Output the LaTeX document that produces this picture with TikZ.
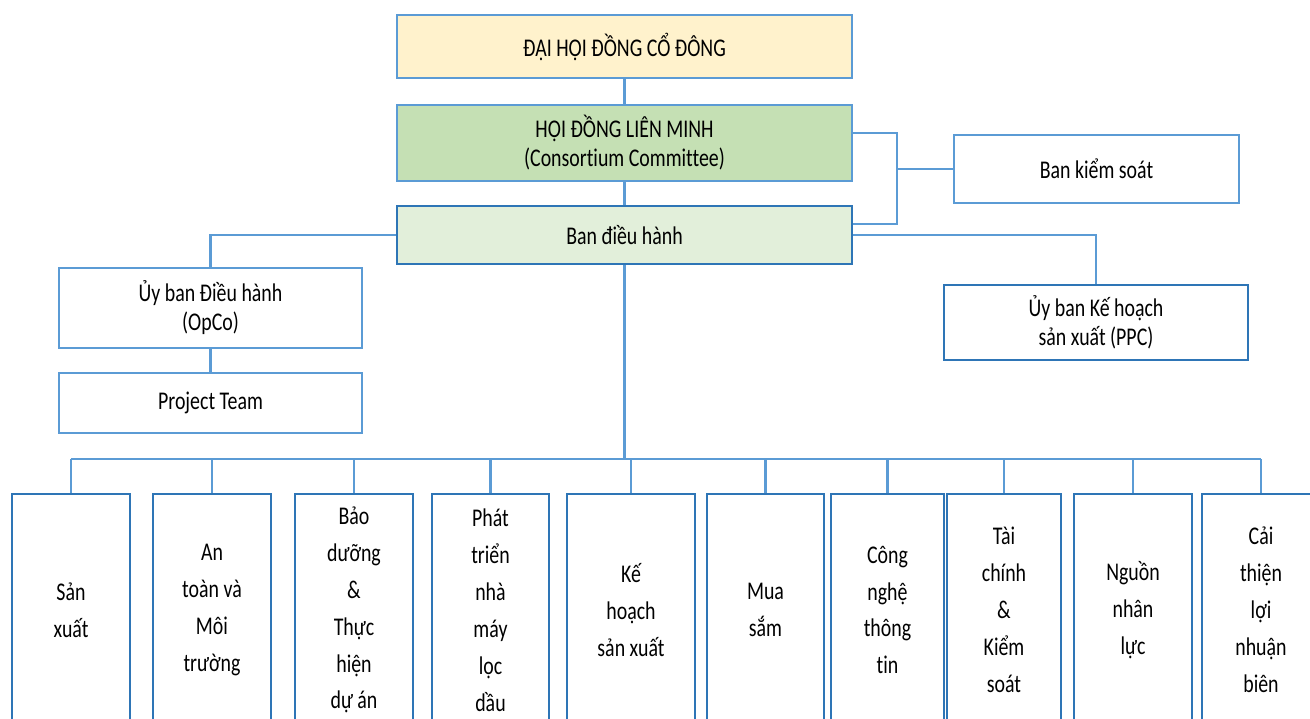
\documentclass[tikz,border=0pt]{standalone}
\usepackage{fontspec}
\setmainfont{Carlito}[FakeStretch=0.78, Ligatures=NoCommon]
\usetikzlibrary{positioning}
\definecolor{lineblue}{HTML}{5B9BD5}
\definecolor{boxblue}{HTML}{2E75B6}
\definecolor{gmsfill}{HTML}{FFF2CC}
\definecolor{boardfill}{HTML}{C5E0B4}
\definecolor{execfill}{HTML}{E2EFDA}
\begin{document}
\begin{tikzpicture}[x=0.02cm, y=-0.02cm, font=\fontsize{14.5}{16.5}\selectfont]
    \tikzstyle{unit}=[draw=lineblue, line width=1.2pt, inner sep=0pt, align=center]
    \tikzstyle{dept}=[unit, draw=boxblue, minimum height=232*0.02cm, font=\fontsize{14.5}{21}\selectfont]
    \tikzstyle{link}=[draw=lineblue, line width=1.2pt]

    \useasboundingbox (0,0) rectangle (1310,718);
    \clip (0,0) rectangle (1310,718);

    % Top level
    \node[unit, fill=gmsfill, minimum width=455*0.02cm, minimum height=63*0.02cm] (dhdcd) at (624.5,46.5) {ĐẠI HỘI ĐỒNG CỔ ĐÔNG};
    \node[unit, fill=boardfill, minimum width=455*0.02cm, minimum height=76*0.02cm] (hdlm) at (624.5,143) {HỘI ĐỒNG LIÊN MINH\\(Consortium Committee)};
    \node[unit, draw=boxblue, fill=execfill, minimum width=455*0.02cm, minimum height=58*0.02cm] (bdh) at (624.5,235) {Ban điều hành};

    % Side units
    \node[unit, minimum width=285*0.02cm, minimum height=68*0.02cm] (bks) at (1096.5,169) {Ban kiểm soát};
    \node[unit, draw=boxblue, minimum width=304*0.02cm, minimum height=75*0.02cm] (ppc) at (1096,322.5) {Ủy ban Kế hoạch\\sản xuất (PPC)};
    \node[unit, minimum width=303*0.02cm, minimum height=80*0.02cm] (opco) at (210.5,308) {Ủy ban Điều hành\\(OpCo)};
    \node[unit, minimum width=303*0.02cm, minimum height=60*0.02cm] (team) at (210.5,403) {Project Team};

    % Departments
    \foreach \i/\x/\w/\txt in {1/71/118/Sản\\xuất,
                                2/212/118/An\\toàn và\\Môi\\trường,
                                3/354/118/Bảo\\dưỡng\\\&\\Thực\\hiện\\dự án,
                                4/490.5/117/Phát\\triển\\nhà\\máy\\lọc\\dầu,
                                5/631/128/Kế\\hoạch\\sản xuất,
                                6/765.5/117/Mua\\sắm,
                                7/887.5/113/Công\\nghệ\\thông\\tin,
                                8/1004/114/Tài\\chính\\\&\\Kiểm\\soát,
                                9/1133/118/Nguồn\\nhân\\lực,
                                10/1261/118/Cải\\thiện\\lợi\\nhuận\\biên}
        \node[dept, minimum width=\w*0.02cm] (D-\i) at (\x,610) {\txt};

    % Connect top level
    \draw[link] (dhdcd) -- (hdlm);
    \draw[link] (hdlm) -- (bdh);

    % Connect supervisory board
    \coordinate (ksbus) at (897,169);
    \draw[link] (hdlm.east |- 0,133) -| (ksbus) |- (bdh.east |- 0,224);
    \draw[link] (ksbus) -- (bks.west);

    % Connect committees
    \draw[link] (bdh.east) -| (ppc.north);
    \draw[link] (bdh.west) -| (opco.north);
    \draw[link] (opco) -- (team);

    % Connect departments
    \coordinate (bus) at (624.5,459);
    \draw[link] (bdh.south) -- (bus);
    \draw[link] (D-1.north |- bus) -- (D-10.north |- bus);
    \foreach \i in {1,...,10}
        \draw[link] (D-\i.north |- bus) -- (D-\i.north);

\end{tikzpicture}
\end{document}
